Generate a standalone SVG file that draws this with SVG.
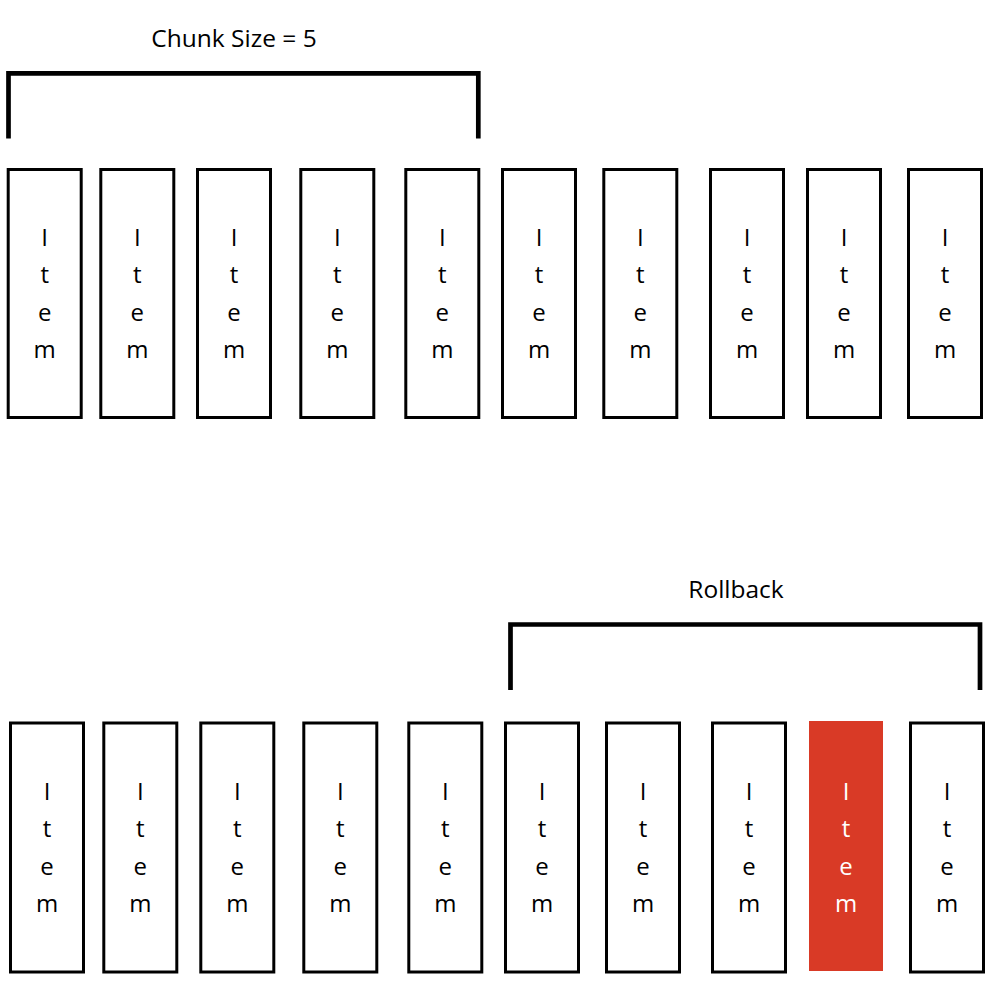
<svg xmlns="http://www.w3.org/2000/svg" width="998" height="982" viewBox="0 0 998 982">
<style>
text{font-family:"Open Sans","Noto Sans","DejaVu Sans",sans-serif;fill:#000}
.box{fill:#fff;stroke:#000;stroke-width:3}
.red{fill:#d93a26;stroke:none}
.it{font-size:24px;text-anchor:middle}
.w{fill:#fff}
.lbl{font-size:24.5px;text-anchor:middle}
.br{fill:none;stroke:#000;stroke-width:4.7;stroke-linejoin:miter;stroke-linecap:butt}
</style>
<rect width="998" height="982" fill="#fff"/>
<g id="labels">
<text class="lbl" x="234" y="46.7">Chunk Size = 5</text>
<text class="lbl" x="736" y="598.3">Rollback</text>
</g>
<g id="brackets">
<path class="br" d="M8.5,138.5 V73.3 H478.3 V138.5"/>
<path class="br" d="M510.5,690 V624.5 H980 V690"/>
</g>
<g id="top-row">
<g id="t1"><rect class="box" x="8.2" y="169.5" width="73" height="248"/><text class="it" x="44.7" y="246"><tspan x="44.7">I</tspan><tspan x="44.7" dy="37.3">t</tspan><tspan x="44.7" dy="37.3">e</tspan><tspan x="44.7" dy="37.3">m</tspan></text></g>
<g id="t2"><rect class="box" x="100.8" y="169.5" width="73" height="248"/><text class="it" x="137.3" y="246"><tspan x="137.3">I</tspan><tspan x="137.3" dy="37.3">t</tspan><tspan x="137.3" dy="37.3">e</tspan><tspan x="137.3" dy="37.3">m</tspan></text></g>
<g id="t3"><rect class="box" x="197.5" y="169.5" width="73" height="248"/><text class="it" x="234" y="246"><tspan x="234">I</tspan><tspan x="234" dy="37.3">t</tspan><tspan x="234" dy="37.3">e</tspan><tspan x="234" dy="37.3">m</tspan></text></g>
<g id="t4"><rect class="box" x="300.8" y="169.5" width="73" height="248"/><text class="it" x="337.3" y="246"><tspan x="337.3">I</tspan><tspan x="337.3" dy="37.3">t</tspan><tspan x="337.3" dy="37.3">e</tspan><tspan x="337.3" dy="37.3">m</tspan></text></g>
<g id="t5"><rect class="box" x="405.8" y="169.5" width="73" height="248"/><text class="it" x="442.3" y="246"><tspan x="442.3">I</tspan><tspan x="442.3" dy="37.3">t</tspan><tspan x="442.3" dy="37.3">e</tspan><tspan x="442.3" dy="37.3">m</tspan></text></g>
<g id="t6"><rect class="box" x="502.5" y="169.5" width="73" height="248"/><text class="it" x="539" y="246"><tspan x="539">I</tspan><tspan x="539" dy="37.3">t</tspan><tspan x="539" dy="37.3">e</tspan><tspan x="539" dy="37.3">m</tspan></text></g>
<g id="t7"><rect class="box" x="603.8" y="169.5" width="73" height="248"/><text class="it" x="640.3" y="246"><tspan x="640.3">I</tspan><tspan x="640.3" dy="37.3">t</tspan><tspan x="640.3" dy="37.3">e</tspan><tspan x="640.3" dy="37.3">m</tspan></text></g>
<g id="t8"><rect class="box" x="710.5" y="169.5" width="73" height="248"/><text class="it" x="747" y="246"><tspan x="747">I</tspan><tspan x="747" dy="37.3">t</tspan><tspan x="747" dy="37.3">e</tspan><tspan x="747" dy="37.3">m</tspan></text></g>
<g id="t9"><rect class="box" x="807.5" y="169.5" width="73" height="248"/><text class="it" x="844" y="246"><tspan x="844">I</tspan><tspan x="844" dy="37.3">t</tspan><tspan x="844" dy="37.3">e</tspan><tspan x="844" dy="37.3">m</tspan></text></g>
<g id="t10"><rect class="box" x="908.5" y="169.5" width="73" height="248"/><text class="it" x="945" y="246"><tspan x="945">I</tspan><tspan x="945" dy="37.3">t</tspan><tspan x="945" dy="37.3">e</tspan><tspan x="945" dy="37.3">m</tspan></text></g>
</g>
<g id="bottom-row">
<g id="b1"><rect class="box" x="10.5" y="723" width="73" height="249"/><text class="it" x="47" y="800"><tspan x="47">I</tspan><tspan x="47" dy="37.4">t</tspan><tspan x="47" dy="37.4">e</tspan><tspan x="47" dy="37.4">m</tspan></text></g>
<g id="b2"><rect class="box" x="103.8" y="723" width="73" height="249"/><text class="it" x="140.3" y="800"><tspan x="140.3">I</tspan><tspan x="140.3" dy="37.4">t</tspan><tspan x="140.3" dy="37.4">e</tspan><tspan x="140.3" dy="37.4">m</tspan></text></g>
<g id="b3"><rect class="box" x="200.8" y="723" width="73" height="249"/><text class="it" x="237.3" y="800"><tspan x="237.3">I</tspan><tspan x="237.3" dy="37.4">t</tspan><tspan x="237.3" dy="37.4">e</tspan><tspan x="237.3" dy="37.4">m</tspan></text></g>
<g id="b4"><rect class="box" x="303.8" y="723" width="73" height="249"/><text class="it" x="340.3" y="800"><tspan x="340.3">I</tspan><tspan x="340.3" dy="37.4">t</tspan><tspan x="340.3" dy="37.4">e</tspan><tspan x="340.3" dy="37.4">m</tspan></text></g>
<g id="b5"><rect class="box" x="408.8" y="723" width="73" height="249"/><text class="it" x="445.3" y="800"><tspan x="445.3">I</tspan><tspan x="445.3" dy="37.4">t</tspan><tspan x="445.3" dy="37.4">e</tspan><tspan x="445.3" dy="37.4">m</tspan></text></g>
<g id="b6"><rect class="box" x="505.5" y="723" width="73" height="249"/><text class="it" x="542" y="800"><tspan x="542">I</tspan><tspan x="542" dy="37.4">t</tspan><tspan x="542" dy="37.4">e</tspan><tspan x="542" dy="37.4">m</tspan></text></g>
<g id="b7"><rect class="box" x="606.5" y="723" width="73" height="249"/><text class="it" x="643" y="800"><tspan x="643">I</tspan><tspan x="643" dy="37.4">t</tspan><tspan x="643" dy="37.4">e</tspan><tspan x="643" dy="37.4">m</tspan></text></g>
<g id="b8"><rect class="box" x="712.5" y="723" width="73" height="249"/><text class="it" x="749" y="800"><tspan x="749">I</tspan><tspan x="749" dy="37.4">t</tspan><tspan x="749" dy="37.4">e</tspan><tspan x="749" dy="37.4">m</tspan></text></g>
<g id="b9"><rect class="red" x="809" y="721" width="74" height="250"/><text class="it w" x="846" y="800"><tspan x="846">I</tspan><tspan x="846" dy="37.4">t</tspan><tspan x="846" dy="37.4">e</tspan><tspan x="846" dy="37.4">m</tspan></text></g>
<g id="b10"><rect class="box" x="910.5" y="723" width="73" height="249"/><text class="it" x="947" y="800"><tspan x="947">I</tspan><tspan x="947" dy="37.4">t</tspan><tspan x="947" dy="37.4">e</tspan><tspan x="947" dy="37.4">m</tspan></text></g>
</g>
<g id="connectors"/>
</svg>
